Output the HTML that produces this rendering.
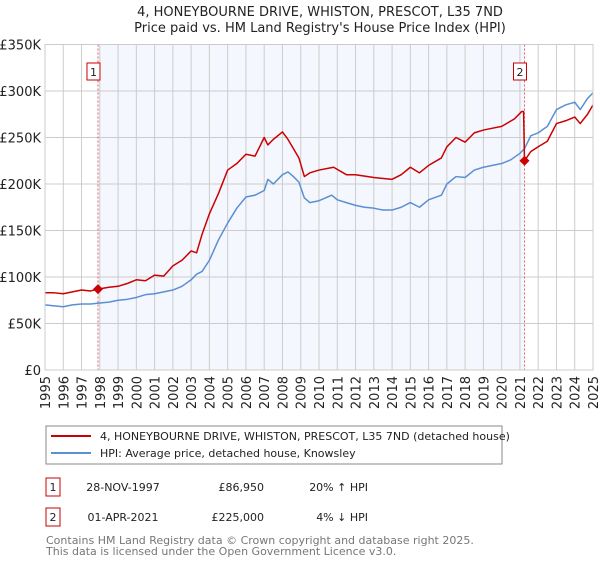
<!DOCTYPE html>
<html><head><meta charset="utf-8"><style>
body{margin:0;background:#fff;font-family:"Liberation Sans","DejaVu Sans",sans-serif;}
svg text{font-family:"DejaVu Sans","Liberation Sans",sans-serif;}
</style></head><body>
<svg id="chart" width="600" height="560" viewBox="0 0 600 560">
<text x="320" y="16" text-anchor="middle" font-size="13" fill="#222">4, HONEYBOURNE DRIVE, WHISTON, PRESCOT, L35 7ND</text>
<text x="320" y="32" text-anchor="middle" font-size="13" fill="#222">Price paid vs. HM Land Registry's House Price Index (HPI)</text>
<g id="plot"></g>
<g>
<rect x="46" y="426" width="456" height="38" fill="#fff" stroke="#888"/>
<line x1="51" y1="436" x2="91" y2="436" stroke="#cc0000" stroke-width="2"/>
<text x="100" y="440" font-size="11" fill="#222">4, HONEYBOURNE DRIVE, WHISTON, PRESCOT, L35 7ND (detached house)</text>
<line x1="51" y1="453" x2="91" y2="453" stroke="#5b8fd4" stroke-width="2"/>
<text x="100" y="457" font-size="11" fill="#222">HPI: Average price, detached house, Knowsley</text>
</g>
<g font-size="11" fill="#222">
<rect x="46" y="478" width="14" height="18" fill="#fff" stroke="#cc0000"/>
<text x="53" y="491" text-anchor="middle">1</text>
<text x="123" y="491" text-anchor="middle">28-NOV-1997</text>
<text x="264" y="491" text-anchor="end">£86,950</text>
<text x="368" y="491" text-anchor="end">20% ↑ HPI</text>
<rect x="46" y="508" width="14" height="18" fill="#fff" stroke="#cc0000"/>
<text x="53" y="521" text-anchor="middle">2</text>
<text x="123" y="521" text-anchor="middle">01-APR-2021</text>
<text x="264" y="521" text-anchor="end">£225,000</text>
<text x="368" y="521" text-anchor="end">4% ↓ HPI</text>
</g>
<text x="46" y="544" font-size="11" fill="#777">Contains HM Land Registry data © Crown copyright and database right 2025.</text>
<text x="46" y="555" font-size="11" fill="#777">This data is licensed under the Open Government Licence v3.0.</text>
</svg>
<script>
const hpiYears=[1995,1995.5,1996,1996.5,1997,1997.5,1998,1998.5,1999,1999.5,2000,2000.5,2001,2001.5,2002,2002.5,2003,2003.3,2003.6,2004,2004.5,2005,2005.5,2006,2006.5,2007,2007.2,2007.5,2008,2008.3,2008.6,2008.9,2009.2,2009.5,2010,2010.7,2011,2011.5,2012,2012.5,2013,2013.5,2014,2014.5,2015,2015.5,2016,2016.7,2017,2017.5,2018,2018.5,2019,2019.5,2020,2020.5,2021,2021.25,2021.6,2022,2022.5,2023,2023.5,2024,2024.3,2024.7,2025];
const hpiValues=[70,69,68,70,71,71,72,73,75,76,78,81,82,84,86,90,97,103,106,118,140,158,174,186,188,193,205,200,210,213,208,202,185,180,182,188,183,180,177,175,174,172,172,175,180,175,183,188,200,208,207,215,218,220,222,226,233,238,252,255,262,280,285,288,280,292,298];
const redYears=[1995,1995.5,1996,1996.5,1997,1997.5,1997.9,1998.5,1999,1999.5,2000,2000.5,2001,2001.5,2002,2002.5,2003,2003.3,2003.6,2004,2004.5,2005,2005.5,2006,2006.5,2007,2007.2,2007.5,2008,2008.3,2008.6,2008.9,2009.2,2009.5,2010,2010.8,2011.5,2012,2013,2014,2014.5,2015,2015.5,2016,2016.7,2017,2017.5,2018,2018.5,2019,2019.5,2020,2020.7,2021.1,2021.2,2021.25,2021.6,2022,2022.5,2023,2023.5,2024,2024.3,2024.7,2025];
const redValues=[83,83,82,84,86,85,86.95,89,90,93,97,96,102,101,112,118,128,126,146,168,190,215,222,232,230,250,242,248,256,248,238,228,208,212,215,218,210,210,207,205,210,218,212,220,228,240,250,245,255,258,260,262,270,278,278,225,235,240,246,265,268,272,265,275,285];
const sales=[[1997.9,86.95,"1"],[2021.25,225,"2"]];
const yTicks=[0,50,100,150,200,250,300,350];
const yTickLabels=["£0","£50K","£100K","£150K","£200K","£250K","£300K","£350K"];
const xTicks=[];for(let y=1995;y<=2025;y++)xTicks.push(y);
const L=45,R=593,T=44.5,B=370;
const X=v=>L+(v-1995)/30*(R-L);
const Y=v=>B-v/350*(B-T);
const NS="http://www.w3.org/2000/svg";
const g=document.getElementById('plot');
function mk(t,a){const e=document.createElementNS(NS,t);for(const k in a)e.setAttribute(k,a[k]);g.appendChild(e);return e;}
let e=mk('rect',{x:X(sales[0][0]),y:T,width:X(sales[1][0])-X(sales[0][0]),height:B-T,fill:'#f4f7fd'});


xTicks.forEach(v=>{const l=mk('line',{x1:X(v),x2:X(v),y1:T,y2:B,stroke:'#cccccc'});


const t=mk('text',{x:0,y:0,'font-size':13,fill:'#222','text-anchor':'end',transform:`translate(${X(v)+5},${B+6}) rotate(-90)`});t.textContent=v;

});
yTicks.forEach((v,i)=>{const l=mk('line',{x1:L,x2:R,y1:Y(v),y2:Y(v),stroke:'#cccccc'});


const t=mk('text',{x:L-4,y:Y(v)+5,'font-size':13,fill:'#222','text-anchor':'end'});t.textContent=yTickLabels[i];

});
sales.forEach(s=>{const l=mk('line',{x1:X(s[0]),x2:X(s[0]),y1:T,y2:B,stroke:'#e06060','stroke-dasharray':'2,2'});


const r=mk('rect',{x:X(s[0])-11,y:63,width:13,height:17,fill:'#fff',stroke:'#cc0000'});


const t=mk('text',{x:X(s[0])-4.5,y:76,'font-size':11,fill:'#222','text-anchor':'middle'});t.textContent=s[2];

});
function line(xs,vs,c,n){const p=mk('polyline',{points:xs.map((x,i)=>X(x)+','+Y(vs[i])).join(' '),fill:'none',stroke:c,'stroke-width':1.5,'stroke-linejoin':'round'});

}
line(hpiYears,hpiValues,'#5b8fd4','hpi-line');
line(redYears,redValues,'#cc0000','property-price-line');
sales.forEach(s=>{const cx=X(s[0]),cy=Y(s[1]);const d=mk('polygon',{points:`${cx},${cy-5} ${cx+5},${cy} ${cx},${cy+5} ${cx-5},${cy}`,fill:'#cc0000'});

});
const ax=mk('rect',{x:L,y:T,width:R-L,height:B-T,fill:'none',stroke:'#cccccc'});


</script>
</body></html>
